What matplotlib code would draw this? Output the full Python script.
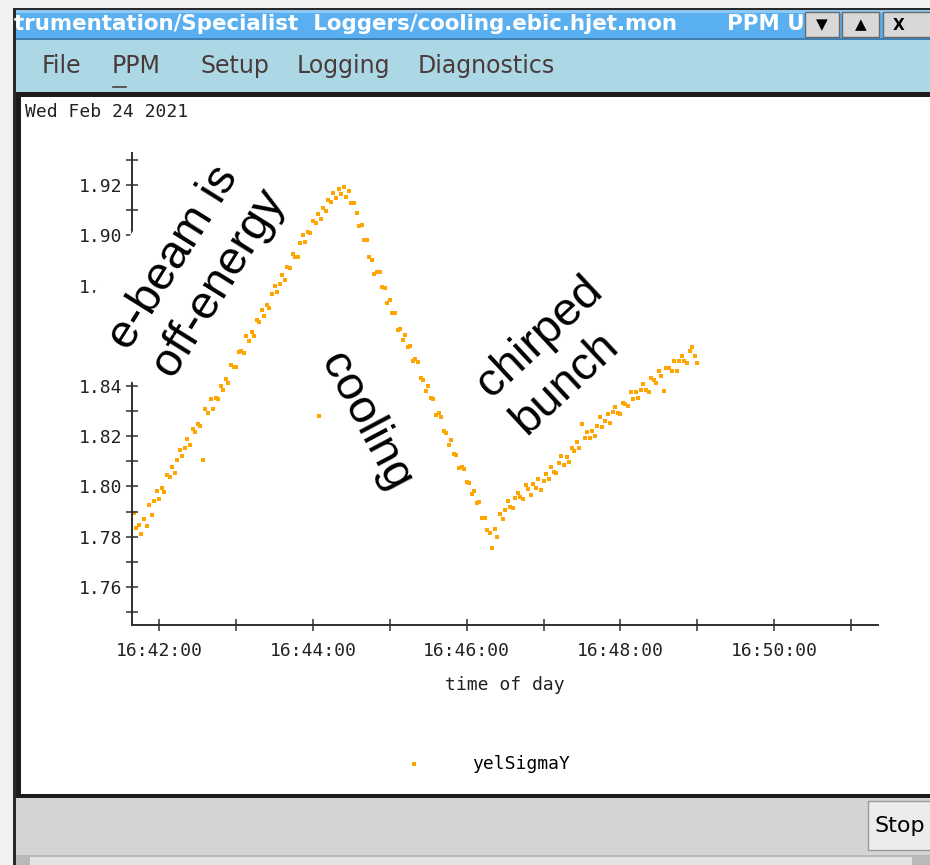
import numpy as np
import matplotlib
matplotlib.use('Agg')
import matplotlib.pyplot as plt
from matplotlib.ticker import FuncFormatter, MultipleLocator
from matplotlib.patches import Rectangle, Polygon

W, H = 930, 865

# yelSigmaY logger readings, one every 2 s starting 16:41:40
t_start = 16 * 3600 + 41 * 60 + 40
dt = 2
sigma_y = [
    # ramp up (e-beam off energy)
    1.7896, 1.7833, 1.7848, 1.7812, 1.7872, 1.7844, 1.7924, 1.7888, 1.7942, 1.7981,
    1.7951, 1.7992, 1.7979, 1.8044, 1.8039, 1.8076, 1.8053, 1.8107, 1.8146, 1.8120,
    1.8154, 1.8188, 1.8164, 1.8230, 1.8218, 1.8249, 1.8240, 1.8104, 1.8309, 1.8294,
    1.8348, 1.8309, 1.8351, 1.8348, 1.8400, 1.8386, 1.8427, 1.8411, 1.8484, 1.8474,
    1.8477, 1.8535, 1.8541, 1.8533, 1.8599, 1.8581, 1.8617, 1.8599, 1.8662, 1.8656,
    1.8701, 1.8680, 1.8721, 1.8712, 1.8767, 1.8797, 1.8776, 1.8807, 1.8844, 1.8821,
    1.8873, 1.8868, 1.8924, 1.8914, 1.8914, 1.8971, 1.9001, 1.8974, 1.9013, 1.9011,
    1.9059, 1.9049, 1.9084, 1.9067, 1.9108, 1.9098, 1.9140, 1.9132, 1.9168, 1.9148,
    1.9185, 1.9165, 1.9193,
    # cooling
    1.9153, 1.9175, 1.9129, 1.9130, 1.9089, 1.9036, 1.9043, 1.8982, 1.8981, 1.8914,
    1.8903, 1.8847, 1.8856, 1.8855, 1.8793, 1.8789, 1.8732, 1.8741, 1.8690, 1.8691,
    1.8624, 1.8625, 1.8585, 1.8605, 1.8556, 1.8558, 1.8498, 1.8507, 1.8494, 1.8432,
    1.8424, 1.8379, 1.8399, 1.8351, 1.8350, 1.8283, 1.8291, 1.8278, 1.8219, 1.8211,
    1.8166, 1.8183, 1.8128, 1.8127, 1.8073, 1.8078, 1.8070, 1.8016, 1.8015, 1.7968,
    1.7982, 1.7935, 1.7936, 1.7873, 1.7874, 1.7827, 1.7816, 1.7756,
    # chirped bunch
    1.7830, 1.7800, 1.7889, 1.7869, 1.7905, 1.7942, 1.7918, 1.7913, 1.7955, 1.7973,
    1.7957, 1.7950, 1.8005, 1.7988, 1.7967, 1.8008, 1.7993, 1.8030, 1.7985, 1.8023,
    1.8049, 1.8029, 1.8077, 1.8058, 1.8052, 1.8092, 1.8120, 1.8085, 1.8116, 1.8099,
    1.8153, 1.8143, 1.8176, 1.8154, 1.8250, 1.8192, 1.8218, 1.8193, 1.8222, 1.8201,
    1.8239, 1.8277, 1.8238, 1.8259, 1.8288, 1.8254, 1.8296, 1.8318, 1.8293, 1.8287,
    1.8331, 1.8329, 1.8321, 1.8376, 1.8348, 1.8377, 1.8351, 1.8385, 1.8408, 1.8383,
    1.8375, 1.8431, 1.8422, 1.8411, 1.8460, 1.8439, 1.8382, 1.8471, 1.8471, 1.8460,
    1.8501, 1.8461, 1.8499, 1.8519, 1.8498, 1.8492, 1.8541, 1.8554, 1.8521, 1.8492,
]
# single stray reading during the ramp
stray_t = [16 * 3600 + 44 * 60 + 5]
stray_v = [1.828]

t = t_start + dt * np.arange(len(sigma_y))

mono = 'DejaVu Sans Mono'
sans = 'DejaVu Sans'
orange = '#ffa500'

fig = plt.figure(figsize=(W / 100, H / 100), dpi=100)

# window chrome, drawn in pixel units
bg = fig.add_axes([0, 0, 1, 1], zorder=-1)
bg.set_xlim(0, W)
bg.set_ylim(H, 0)
bg.axis('off')


def box(x0, y0, x1, y1, fc, ec='none', lw=0, z=1):
    bg.add_patch(Rectangle((x0, y0), x1 - x0, y1 - y0, facecolor=fc,
                           edgecolor=ec, linewidth=lw, zorder=z))


box(0, 0, W, H, '#f1f1f1')
box(13, 8, W, H, '#2a2a2a')
box(16, 10, W, 38, '#59aff0')
box(16, 10, W, 13, '#8cc8f5')
box(16, 38, W, 40, '#3d7fb0')
box(16, 40, W, 92, '#acd8e6')
box(16, 92, W, 798, '#1c1c1c')
box(21, 97, W, 794, 'white')
box(16, 798, W, 855, '#d4d4d4')
box(16, 855, W, H, '#b9b9b9')
box(30, 857, 912, H, '#e4e4e4')
box(868, 801, 945, 850, '#ececec', ec='#9a9a9a', lw=1, z=2)
bg.text(874, 826, 'Stop', family=sans, fontsize=16, color='black',
        va='center', ha='left', zorder=3)

# title bar text and window buttons
bg.text(14, 24, 'trumentation/Specialist  Loggers/cooling.ebic.hjet.mon',
        family=sans, fontweight='bold', fontsize=15.4, color='white',
        va='center', ha='left', zorder=2)
bg.text(727, 24, 'PPM U', family=sans, fontweight='bold', fontsize=15.4,
        color='white', va='center', ha='left', zorder=2)
for x0, x1, sym in [(805, 839, '▼'), (842, 879, '▲'), (883, 935, 'X')]:
    box(x0, 12, x1, 37, '#d8d8d8', ec='#6a6a6a', lw=1, z=3)
    bg.text((x0 + x1) / 2 if sym != 'X' else x0 + 16, 25, sym, family=sans,
            fontweight='bold', fontsize=11, color='black', ha='center',
            va='center', zorder=4)

# menu bar
for x, name in [(42, 'File'), (112, 'PPM'), (200, 'Setup'), (297, 'Logging'),
                (418, 'Diagnostics')]:
    bg.text(x, 66, name, family=sans, fontsize=17, color='#4a3b3b',
            va='center', ha='left')
bg.plot([113, 126], [87, 87], color='#4a3b3b', lw=1.2)

bg.text(25, 112, 'Wed Feb 24 2021', family=mono, fontsize=13, color='#222222',
        va='center', ha='left')

# data axes
ax = fig.add_axes([132.3 / W, 1 - 625 / H, (878.3 - 132.3) / W, (625 - 153) / H])
ax.set_facecolor('none')
ax.scatter(t, sigma_y, s=6, marker='s', color=orange, linewidths=0,
           label='yelSigmaY')
ax.scatter(stray_t, stray_v, s=6, marker='s', color=orange, linewidths=0)

ax.set_xlim(60098.9, 60681.4)
ax.set_ylim(1.7448, 1.9328)
for side in ('top', 'right'):
    ax.spines[side].set_visible(False)
for side in ('left', 'bottom'):
    ax.spines[side].set_color('#2f2f2f')
    ax.spines[side].set_linewidth(1.4)

ax.xaxis.set_major_locator(MultipleLocator(120))
ax.xaxis.set_minor_locator(MultipleLocator(60))
ax.yaxis.set_major_locator(MultipleLocator(0.02))
ax.yaxis.set_minor_locator(MultipleLocator(0.01))
ax.xaxis.set_major_formatter(FuncFormatter(
    lambda v, p: '%02d:%02d:%02d' % (v // 3600, v % 3600 // 60, v % 60)))
ax.yaxis.set_major_formatter(FuncFormatter(lambda v, p: '%.2f' % v))
ax.tick_params(which='both', direction='inout', length=9, width=1.1,
               color='#2f2f2f', labelsize=13, labelcolor='#222222')
ax.tick_params(axis='x', pad=8)
ax.tick_params(axis='y', pad=3)
for lab in ax.get_xticklabels() + ax.get_yticklabels():
    lab.set_family(mono)
ax.set_xlabel('time of day', family=mono, fontsize=13, color='#222222',
              labelpad=11)

ax.legend(loc='center left', bbox_to_anchor=(396 / W, 1 - 764 / H),
          bbox_transform=fig.transFigure, frameon=False, borderpad=0,
          borderaxespad=0, handlelength=2, handletextpad=2.2, scatterpoints=1,
          prop={'family': mono, 'size': 13})

# white backing under the first note, hiding that stretch of the y axis
fig.add_artist(Polygon([(65, 340), (202, 120), (304, 184), (167, 404)],
                       closed=True, facecolor='white', edgecolor='none',
                       transform=bg.transData, zorder=2.5))

# hand-written notes over the plot
note = dict(fontsize=34, color='black', family='Liberation Sans',
            ha='center', va='center', rotation_mode='anchor', ma='left',
            transform=bg.transData, zorder=3)
fig.text(197, 269, 'e-beam is\noff-energy', rotation=58, **note)
fig.text(366, 422, 'cooling', rotation=-62, **note)
fig.text(557, 356, 'chirped\nbunch', rotation=43, **note)

fig.savefig('out.png', dpi=100)
